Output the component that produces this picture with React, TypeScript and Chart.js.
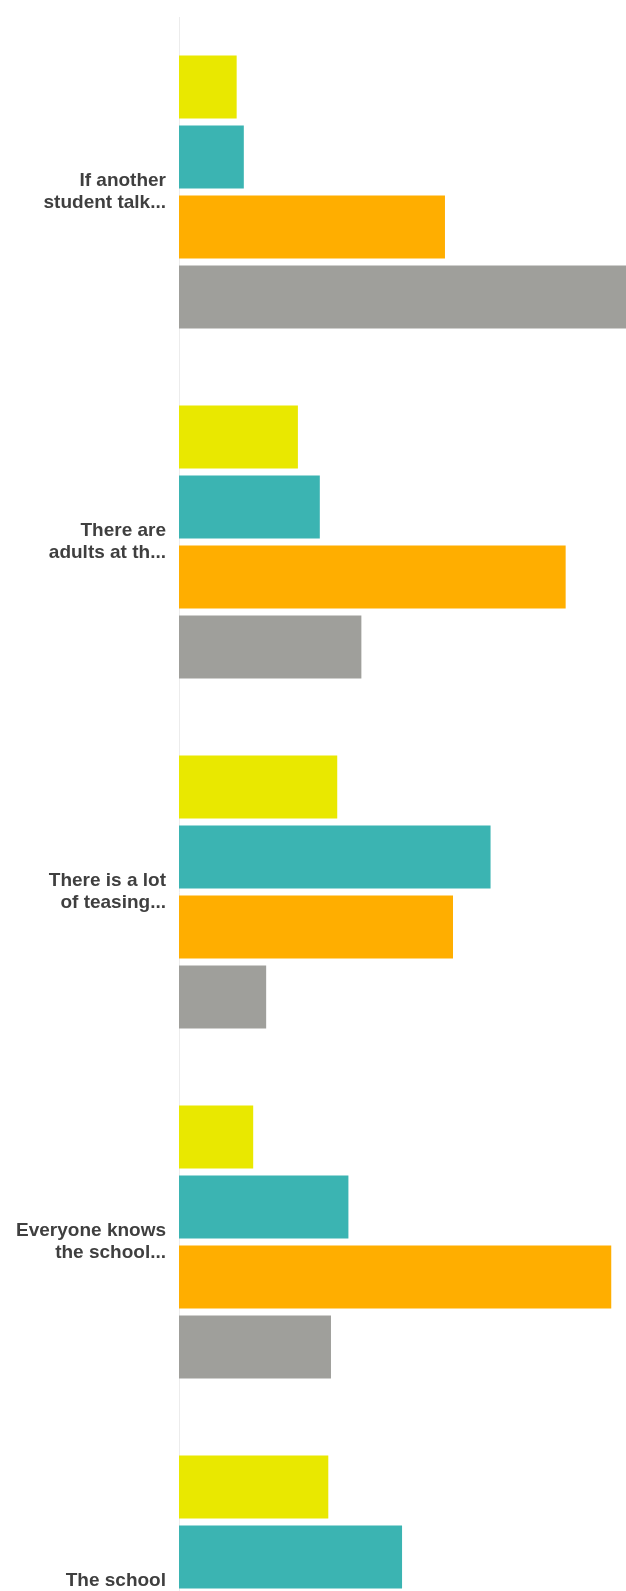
import React, { useEffect, useRef } from "react";
import { Chart, registerables } from "chart.js";

Chart.register(...registerables);

const categories: string[][] = [
  ["If another", "student talk..."],
  ["There are", "adults at th..."],
  ["There is a lot", "of teasing..."],
  ["Everyone knows", "the school..."],
  ["The school", "..."],
];

const seriesA = [12.9, 26.6, 35.4, 16.6, 33.4];
const seriesB = [14.5, 31.5, 69.7, 37.9, 49.9];
const seriesC = [59.5, 86.5, 61.3, 96.7, 60.0];
const seriesD = [100, 40.8, 19.5, 34.0, 25.0];

const colors = ["#e9e800", "#3bb4b2", "#ffae00", "#9f9f9b"];
const seriesNames = ["A", "B", "C", "D"];

export default function App() {
  const ref = useRef<HTMLCanvasElement | null>(null);
  useEffect(() => {
    if (!ref.current) return;
    const data = [seriesA, seriesB, seriesC, seriesD];
    const chart = new Chart(ref.current, {
      type: "bar",
      data: {
        labels: categories,
        datasets: data.map((d, i) => ({
          label: seriesNames[i],
          data: d,
          backgroundColor: colors[i],
          borderWidth: 0,
          barPercentage: 0.9,
          categoryPercentage: 0.8,
        })),
      },
      options: {
        indexAxis: "y",
        responsive: false,
        animation: false,
        layout: { padding: { top: 17, bottom: 3, left: 0, right: 0 } },
        plugins: { legend: { display: false }, tooltip: { enabled: false } },
        scales: {
          x: { display: false, min: 0, max: 100 },
          y: {
            grid: { display: true, color: "rgba(0,0,0,0)", drawTicks: false },
            border: { display: true, color: "#ececec", width: 1 },
            ticks: {
              padding: 13,
              color: "#3f3f3f",
              font: { family: "'Liberation Sans', Arial, sans-serif", size: 19, weight: "bold", lineHeight: 1.17 },
            },
            afterFit: (scale: any) => {
              scale.width = 179;
              scale.paddingTop = 0;
              scale.paddingBottom = 0;
            },
          },
        },
      },
    });
    return () => chart.destroy();
  }, []);
  return (
    <div style={{ position: "fixed", top: 0, left: 0, width: 626, height: 1591, overflow: "hidden", background: "#fff" }}>
      <canvas ref={ref} width={626} height={1770} style={{ display: "block" }} />
    </div>
  );
}
